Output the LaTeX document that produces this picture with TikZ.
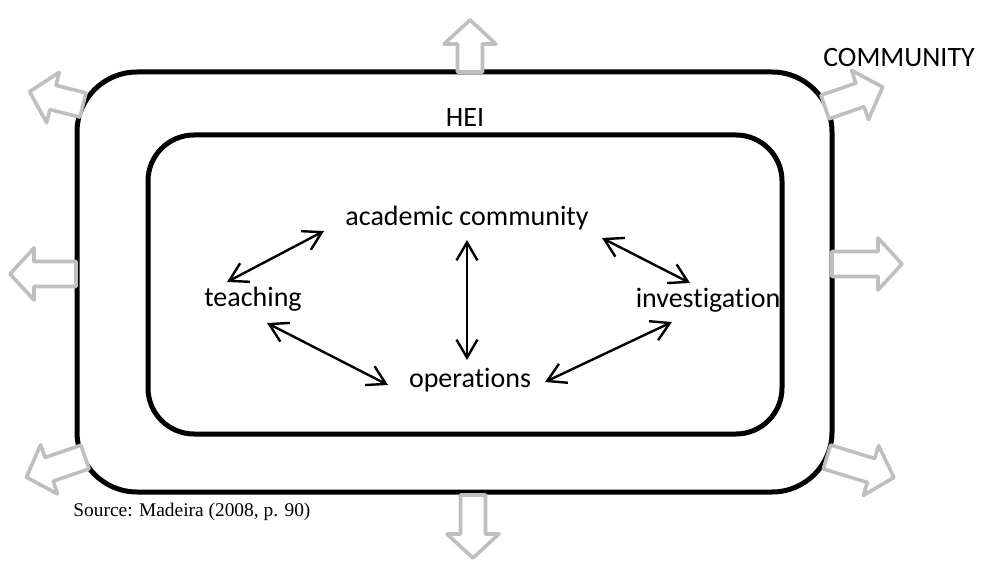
\documentclass[tikz,border=0pt]{standalone}
\usepackage{fontspec}
\setmainfont{Carlito}[Ligatures={NoCommon,NoContextual}]
\newfontfamily\sourcefont{Liberation Serif}
\usetikzlibrary{arrows.meta,positioning}

\begin{document}
\begin{tikzpicture}[
    x=0.5pt, y=0.5pt,
    frame/.style={rectangle, draw=black, line width=2.5pt, inner sep=0pt},
    term/.style={font=\fontsize{14}{17}\selectfont, inner sep=0pt},
    link/.style={{Straight Barb[length=9pt,width=10.5pt]}-{Straight Barb[length=9pt,width=10.5pt]}, line width=1.2pt},
    outflow/.style={draw=black!25, fill=white, line width=1.8pt, line join=round}
]
    \useasboundingbox (0,0) rectangle (986,563);

    % boxes
    \node[frame, rounded corners=30pt, minimum width=377.5pt, minimum height=210pt] (community) at (454.5,281) {};
    \node[frame, rounded corners=23pt, minimum width=317pt, minimum height=149.5pt] (hei) at (465,278.5) {};

    \node[term] (communitytext) at (899,505) {COMMUNITY};
    \node[term] (heitext) at (465,445) {HEI};

    \node[term] (acad) at (467,345) {academic community};
    \node[term] (teach) at (253,264) {teaching};
    \node[term] (invest) at (708,263) {investigation};
    \node[term] (oper) at (470,183) {operations};

    \draw[link] ([shift={(-26,17)}]teach.center) -- ([shift={(-143,-13)}]acad.center);
    \draw[link] ([shift={(0,-22)}]acad.center) -- ([shift={(-3,20)}]oper.center);
    \draw[link] ([shift={(14,-24)}]teach.center) -- ([shift={(-82,-5)}]oper.center);
    \draw[link] ([shift={(135,-20)}]acad.center) -- ([shift={(-18,17)}]invest.center);
    \draw[link] ([shift={(75,-2)}]oper.center) -- ([shift={(-36,-22)}]invest.center);

    % outward arrows: tail x / tail y / angle / length
    \foreach \x/\y/\a/\l in {470/491/90/52, 83/458/166/55, 76/289/180/66, 85/106/199/62,
                             473/68/270/63, 827/106/-17/70, 832/299/0/70, 825/456/19/61}
        \draw[outflow, shift={(\x,\y)}, rotate=\a]
            (0,12.5) -- (\l-24,12.5) -- (\l-24,26) -- (\l,0) -- (\l-24,-26) -- (\l-24,-12.5) -- (0,-12.5) -- cycle;

    \node[anchor=west, inner sep=0pt, font=\sourcefont\fontsize{9.7}{12}\selectfont] (source) at (73,51) {Source: Madeira (2008, p. 90)};
\end{tikzpicture}
\end{document}
